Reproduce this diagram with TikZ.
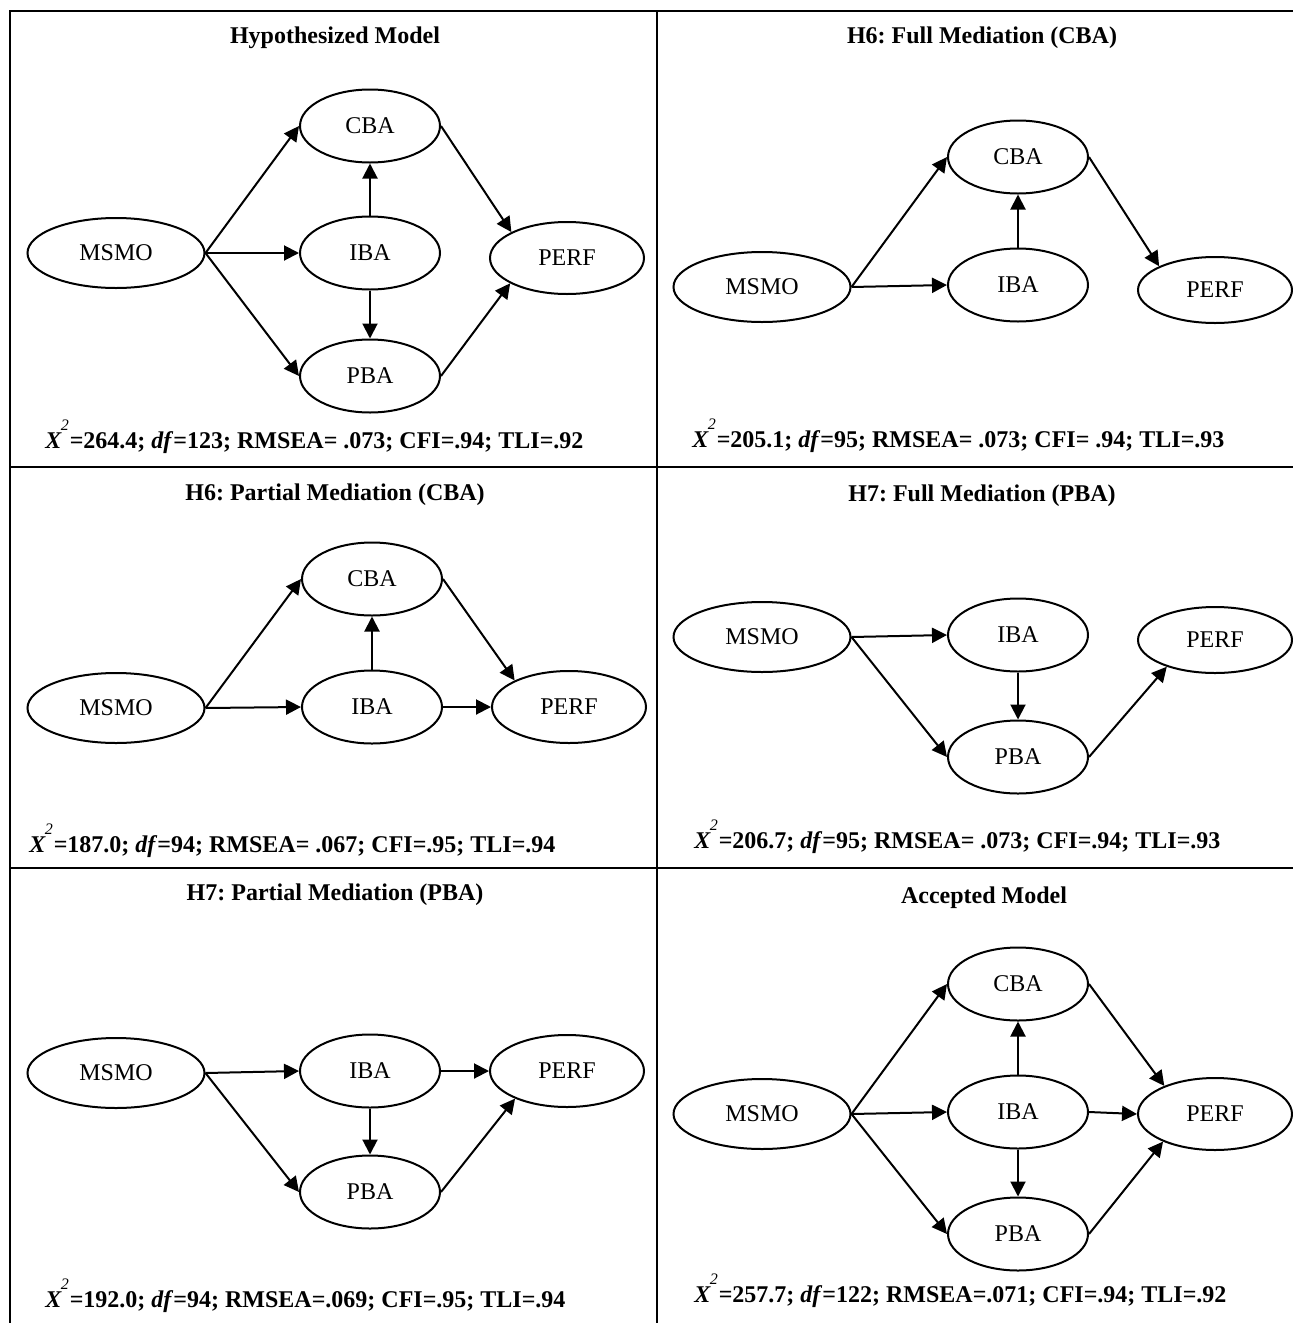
\documentclass[tikz,border=0pt]{standalone}
\usepackage{fontspec}
\setmainfont{Liberation Serif}
\usetikzlibrary{arrows.meta,shapes.geometric}
\frenchspacing
% chi-square symbol with its raised exponent
\newcommand\xsq{{\itshape X}\kern-0.3pt\raisebox{9pt}{\fontsize{8}{8}\selectfont\mdseries\itshape 2}\kern0.5pt}
\begin{document}
\begin{tikzpicture}[x=0.5pt,y=-0.5pt,
  frame/.style={line width=1.4pt},
  latent/.style={ellipse,draw,line width=1pt,inner sep=0pt,font=\fontsize{12}{14}\selectfont},
  msmo/.style={latent,minimum width=88.5pt,minimum height=35pt},
  med/.style={latent,minimum width=70pt,minimum height=36.5pt},
  perf/.style={latent,minimum width=77pt,minimum height=36pt},
  perfs/.style={latent,minimum width=77pt,minimum height=33pt},
  link/.style={-{Triangle[length=7.5pt,width=7.5pt]},line width=1pt},
  title/.style={anchor=base,inner sep=0pt,font=\bfseries\fontsize{12}{14}\selectfont},
  stat/.style={anchor=base west,inner sep=0pt,font=\bfseries\fontsize{12}{14}\selectfont}
]
\useasboundingbox (0,0) rectangle (1293,1323);

% grid of panels
\draw[frame] (10,1323) -- (10,11) -- (1293,11);
\draw[frame] (657,11) -- (657,1323);
\draw[frame] (10,467) -- (1293,467);
\draw[frame] (10,868) -- (1293,868);

% ---- Hypothesized model
\node[title] (t1) at (335,43) {Hypothesized Model};
\node[msmo] (a-m) at (116,253) {MSMO};
\node[med] (a-c) at (370,126) {CBA};
\node[med] (a-i) at (370,253) {IBA};
\node[med] (a-b) at (370,376) {PBA};
\node[perf] (a-p) at (567,258) {PERF};
\draw[link] (a-m.east) -- (a-c.west);
\draw[link] (a-m.east) -- (a-i.west);
\draw[link] (a-m.east) -- (a-b.west);
\draw[link] (a-i.north) -- (a-c.south);
\draw[link] (a-i.south) -- (a-b.north);
\draw[link] (a-c.east) -- (a-p.155);
\draw[link] (a-b.east) -- (a-p.204);
\node[stat] (s1) at (45,448) {\xsq=264.4; \textit{df}=123; RMSEA= .073; CFI=.94; TLI=.92};

% ---- H6 full mediation
\node[title] (t2) at (982,43) {H6: Full Mediation (CBA)};
\node[msmo] (b-m) at (762,287) {MSMO};
\node[med] (b-c) at (1018,157) {CBA};
\node[med] (b-i) at (1018,285) {IBA};
\node[perfs] (b-p) at (1215,290) {PERF};
\draw[link] (b-m.east) -- (b-c.west);
\draw[link] (b-m.east) -- (b-i.west);
\draw[link] (b-i.north) -- (b-c.south);
\draw[link] (b-c.east) -- (b-p.157);
\node[stat] (s2) at (692,447) {\xsq=205.1; \textit{df}=95; RMSEA= .073; CFI= .94; TLI=.93};

% ---- H6 partial mediation
\node[title] (t3) at (335,500) {H6: Partial Mediation (CBA)};
\node[msmo] (c-m) at (116,708) {MSMO};
\node[med] (c-c) at (372,579) {CBA};
\node[med] (c-i) at (372,707) {IBA};
\node[perf] (c-p) at (569,707) {PERF};
\draw[link] (c-m.east) -- (c-c.west);
\draw[link] (c-m.east) -- (c-i.west);
\draw[link] (c-i.north) -- (c-c.south);
\draw[link] (c-c.east) -- (c-p.154);
\draw[link] (c-i.east) -- (c-p.west);
\node[stat] (s3) at (29,852) {\xsq=187.0; \textit{df}=94; RMSEA= .067; CFI=.95; TLI=.94};

% ---- H7 full mediation
\node[title] (t4) at (982,501) {H7: Full Mediation (PBA)};
\node[msmo] (d-m) at (762,637) {MSMO};
\node[med] (d-i) at (1018,635) {IBA};
\node[med] (d-b) at (1018,757) {PBA};
\node[perfs] (d-p) at (1215,640) {PERF};
\draw[link] (d-m.east) -- (d-i.west);
\draw[link] (d-m.east) -- (d-b.west);
\draw[link] (d-i.south) -- (d-b.north);
\draw[link] (d-b.east) -- (d-p.209);
\node[stat] (s4) at (694,848) {\xsq=206.7; \textit{df}=95; RMSEA= .073; CFI=.94; TLI=.93};

% ---- H7 partial mediation
\node[title] (t5) at (335,900) {H7: Partial Mediation (PBA)};
\node[msmo] (e-m) at (116,1073) {MSMO};
\node[med] (e-i) at (370,1071) {IBA};
\node[med] (e-b) at (370,1192) {PBA};
\node[perf] (e-p) at (567,1071) {PERF};
\draw[link] (e-m.east) -- (e-i.west);
\draw[link] (e-m.east) -- (e-b.west);
\draw[link] (e-i.south) -- (e-b.north);
\draw[link] (e-i.east) -- (e-p.west);
\draw[link] (e-b.east) -- (e-p.208);
\node[stat] (s5) at (45,1307) {\xsq=192.0; \textit{df}=94; RMSEA=.069; CFI=.95; TLI=.94};

% ---- Accepted model
\node[title] (t6) at (984,903) {Accepted Model};
\node[msmo] (f-m) at (762,1114) {MSMO};
\node[med] (f-c) at (1018,984) {CBA};
\node[med] (f-i) at (1018,1112) {IBA};
\node[med] (f-b) at (1018,1234) {PBA};
\node[perf] (f-p) at (1215,1114) {PERF};
\draw[link] (f-m.east) -- (f-c.west);
\draw[link] (f-m.east) -- (f-i.west);
\draw[link] (f-m.east) -- (f-b.west);
\draw[link] (f-i.north) -- (f-c.south);
\draw[link] (f-i.south) -- (f-b.north);
\draw[link] (f-i.east) -- (f-p.west);
\draw[link] (f-c.east) -- (f-p.151);
\draw[link] (f-b.east) -- (f-p.208);
\node[stat] (s6) at (694,1302) {\xsq=257.7; \textit{df}=122; RMSEA=.071; CFI=.94; TLI=.92};
\end{tikzpicture}
\end{document}
